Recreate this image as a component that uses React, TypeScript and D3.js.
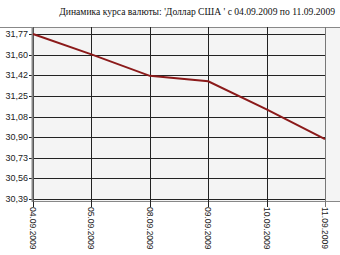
import React from "react";
import * as d3 from "d3";

const dates = ["04.09.2009", "05.09.2009", "08.09.2009", "09.09.2009", "10.09.2009", "11.09.2009"];
const rates = [31.77, 31.6, 31.42, 31.375, 31.14, 30.89];
const yTickLabels = ["31,77", "31,60", "31,42", "31,25", "31,08", "30,90", "30,73", "30,56", "30,39"];
const yMin = 30.39;
const yMax = 31.77;
const title = "Динамика курса валюты: 'Доллар США ' с 04.09.2009 по 11.09.2009";

export default function App() {
  const W = 340, H = 255;
  const left = 33, right = 325, top = 34, bottom = 199;
  const x = d3.scalePoint<string>().domain(dates).range([left, right]);
  const y = d3.scaleLinear().domain([yMin, yMax]).range([bottom, top]);
  const tickVals = yTickLabels.map((_, i) => yMax - (i * (yMax - yMin)) / (yTickLabels.length - 1));
  const line = d3.line<number>().x((_, i) => x(dates[i])!).y((d) => y(d));
  const sans = "'Liberation Sans', Arial, sans-serif";
  return (
    <svg width={W} height={H} style={{ position: "absolute", left: 0, top: 0, background: "#fff" }}>
      <text x={335} y={15} textAnchor="end" fontFamily="'Liberation Serif', serif" fontSize={9.6} fill="#111">{title}</text>
      <rect x={left} y={27} width={W - left} height={bottom + 3 - 27} fill="#f4f4f4" />
      <line x1={0} x2={W} y1={27.5} y2={27.5} stroke="#888" strokeWidth={1} />
      {tickVals.map((v, i) => (
        <g key={i}>
          <line x1={left - 4} x2={right} y1={Math.round(y(v)) + 0.5} y2={Math.round(y(v)) + 0.5} stroke="#222" strokeWidth={1} />
          <text x={28} y={y(v) + 3} textAnchor="end" fontFamily={sans} fontSize={9} fill="#222">{yTickLabels[i]}</text>
        </g>
      ))}
      <line x1={left} x2={W} y1={bottom + 2.5} y2={bottom + 2.5} stroke="#888" strokeWidth={1} />
      {dates.map((d, i) => (
        <g key={d}>
          <line x1={Math.round(x(d)!) + 0.5} x2={Math.round(x(d)!) + 0.5} y1={27} y2={bottom + 8} stroke={i === dates.length - 1 ? "#777" : "#222"} strokeWidth={1} />
          <text transform={`translate(${x(d)! - 3},${bottom + 8}) rotate(90)`} fontFamily={sans} fontSize={8.5} fill="#222">{d}</text>
        </g>
      ))}
      <line x1={left - 0.5} x2={left - 0.5} y1={27} y2={bottom + 3} stroke="#888" strokeWidth={2} />
      <path d={line(rates)!} fill="none" stroke="#8b1a1a" strokeWidth={2} />
    </svg>
  );
}
